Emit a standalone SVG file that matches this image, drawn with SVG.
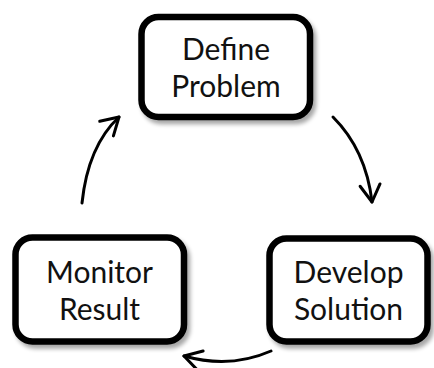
<svg xmlns="http://www.w3.org/2000/svg" width="434" height="368" viewBox="0 0 434 368">
  <style>
    .box { fill: #ffffff; stroke: #000000; stroke-width: 6.5; filter: url(#shadow); }
    .label { font-family: Lato, "Open Sans", "Liberation Sans", sans-serif; font-size: 30px; fill: #111111; text-anchor: middle; }
    .conn { fill: none; stroke: #000000; stroke-width: 3; stroke-linecap: round; marker-end: url(#chevron); }
  </style>
  <defs>
    <filter id="shadow" x="-20%" y="-20%" width="140%" height="150%">
      <feGaussianBlur in="SourceAlpha" stdDeviation="2.2"/>
      <feOffset dx="3" dy="4" result="blur"/>
      <feComponentTransfer><feFuncA type="linear" slope="0.35"/></feComponentTransfer>
      <feMerge><feMergeNode/><feMergeNode in="SourceGraphic"/></feMerge>
    </filter>
    <marker id="chevron" markerUnits="userSpaceOnUse" viewBox="-22 -14 26 28" refX="0" refY="0" markerWidth="26" markerHeight="28" orient="auto" overflow="visible">
      <path d="M-17,-10 L0,0 L-17,10" fill="none" stroke="#000000" stroke-width="3" stroke-linecap="round" stroke-linejoin="round"/>
    </marker>
  </defs>

  <g id="connectors">
    <path class="conn" d="M333,117 Q366,150 372,202"/>
    <path class="conn" d="M271,351 Q230,369 184,356"/>
    <path class="conn" d="M82,203 Q88,146 119,117"/>
  </g>

  <g id="define-problem">
    <rect class="box" x="141.5" y="17" width="168.5" height="100" rx="17"/>
    <text class="label" x="226" y="60">Define</text>
    <text class="label" x="226" y="96.5">Problem</text>
  </g>

  <g id="develop-solution">
    <rect class="box" x="269.5" y="238.5" width="158" height="103" rx="17"/>
    <text class="label" x="348.5" y="283">Develop</text>
    <text class="label" x="348.5" y="319.5">Solution</text>
  </g>

  <g id="monitor-result">
    <rect class="box" x="15.5" y="237.5" width="168.5" height="104" rx="17"/>
    <text class="label" x="99.5" y="283">Monitor</text>
    <text class="label" x="99.5" y="319.5">Result</text>
  </g>
</svg>
